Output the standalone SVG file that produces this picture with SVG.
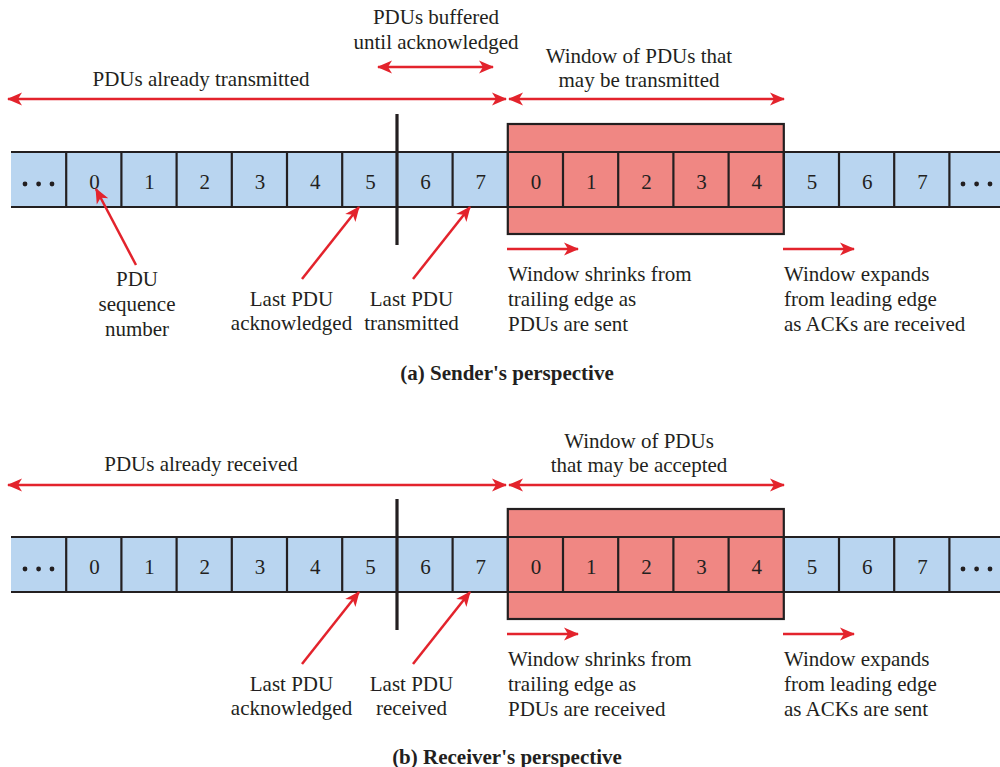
<svg xmlns="http://www.w3.org/2000/svg" xmlns:xlink="http://www.w3.org/1999/xlink" width="1000" height="767" viewBox="0 0 1000 767">
  <style>
    text { font-family: 'Liberation Serif', 'DejaVu Serif', serif; font-size: 21px; fill: #231f20; }
    .c { text-anchor: middle; }
    .cap { font-weight: bold; }
    .arr { stroke: #e3232c; stroke-width: 2.5; fill: none; marker-end: url(#head); }
    .arr2 { marker-start: url(#head); }
    .grid { stroke: #231f20; stroke-width: 2.2; fill: none; }
    .edge { stroke: #231f20; stroke-width: 3.2; }
  </style>
  <defs>
    <marker id="head" markerUnits="userSpaceOnUse" orient="auto-start-reverse" refX="0" refY="0" markerWidth="16" markerHeight="14" overflow="visible">
      <path d="M1,0 L-14,-6.5 L-10,0 L-14,6.5 Z" fill="#e3232c"/>
    </marker>
    <!-- sequence strip: 18 cells of width 55.2 starting at x=11 -->
    <g id="strip">
      <rect x="11" y="152" width="1000" height="55" fill="#b9d5f0"/>
      <rect x="507.8" y="124" width="276" height="110" fill="#f08783" stroke="#231f20" stroke-width="2.2"/>
      <path class="grid" d="M11,152 H1000 M11,207 H1000
        M66.2,152 V207 M121.4,152 V207 M176.6,152 V207 M231.8,152 V207 M287,152 V207
        M342.2,152 V207 M452.6,152 V207 M507.8,152 V207 M563,152 V207 M618.2,152 V207
        M673.4,152 V207 M728.6,152 V207 M783.8,152 V207 M839,152 V207 M894.2,152 V207 M949.4,152 V207"/>
      <line class="edge" x1="397" y1="114" x2="397" y2="245"/>
      <g fill="#231f20">
        <circle cx="25" cy="184" r="2.4"/><circle cx="38.6" cy="184" r="2.4"/><circle cx="52" cy="184" r="2.4"/>
        <circle cx="963" cy="184" r="2.4"/><circle cx="976.6" cy="184" r="2.4"/><circle cx="990" cy="184" r="2.4"/>
      </g>
      <g class="c" font-family="Liberation Serif, serif">
        <text class="c" x="94.4" y="189">0</text>
        <text class="c" x="149.6" y="189">1</text>
        <text class="c" x="204.8" y="189">2</text>
        <text class="c" x="260" y="189">3</text>
        <text class="c" x="315.2" y="189">4</text>
        <text class="c" x="370.4" y="189">5</text>
        <text class="c" x="425.6" y="189">6</text>
        <text class="c" x="480.8" y="189">7</text>
        <text class="c" x="536" y="189">0</text>
        <text class="c" x="591.2" y="189">1</text>
        <text class="c" x="646.4" y="189">2</text>
        <text class="c" x="701.6" y="189">3</text>
        <text class="c" x="756.8" y="189">4</text>
        <text class="c" x="812" y="189">5</text>
        <text class="c" x="867.2" y="189">6</text>
        <text class="c" x="922.4" y="189">7</text>
      </g>
    </g>
  </defs>

  <!-- (a) sender side -->
  <g id="sender-strip"><use xlink:href="#strip"/></g>

  <g id="sender-labels">
    <g id="lbl-buffered">
      <text class="c" x="436" y="24">PDUs buffered</text>
      <text class="c" x="436" y="49">until acknowledged</text>
    </g>
    <text id="lbl-transmitted" class="c" x="201" y="86">PDUs already transmitted</text>
    <g id="lbl-window-a">
      <text class="c" x="639" y="63">Window of PDUs that</text>
      <text class="c" x="639" y="87">may be transmitted</text>
    </g>
    <g id="lbl-seq">
      <text class="c" x="137" y="286">PDU</text>
      <text class="c" x="137" y="311">sequence</text>
      <text class="c" x="137" y="336">number</text>
    </g>
    <g id="lbl-ack-a">
      <text class="c" x="291.5" y="306">Last PDU</text>
      <text class="c" x="291.5" y="330">acknowledged</text>
    </g>
    <g id="lbl-last-tx">
      <text class="c" x="411.5" y="306">Last PDU</text>
      <text class="c" x="411.5" y="330">transmitted</text>
    </g>
    <g id="lbl-shrink-a">
      <text x="508" y="281">Window shrinks from</text>
      <text x="508" y="306">trailing edge as</text>
      <text x="508" y="331">PDUs are sent</text>
    </g>
    <g id="lbl-expand-a">
      <text x="784" y="281">Window expands</text>
      <text x="784" y="306">from leading edge</text>
      <text x="784" y="331">as ACKs are received</text>
    </g>
    <text id="cap-a" class="c cap" x="507" y="380">(a) Sender's perspective</text>
  </g>

  <!-- (b) receiver side, shifted down by 385 -->
  <g id="receiver-strip" transform="translate(0,385)"><use xlink:href="#strip"/></g>

  <g id="receiver-labels">
    <text id="lbl-received" class="c" x="201" y="471">PDUs already received</text>
    <g id="lbl-window-b">
      <text class="c" x="639" y="448">Window of PDUs</text>
      <text class="c" x="639" y="472">that may be accepted</text>
    </g>
    <g id="lbl-ack-b">
      <text class="c" x="291.5" y="691">Last PDU</text>
      <text class="c" x="291.5" y="715">acknowledged</text>
    </g>
    <g id="lbl-last-rx">
      <text class="c" x="411.5" y="691">Last PDU</text>
      <text class="c" x="411.5" y="715">received</text>
    </g>
    <g id="lbl-shrink-b">
      <text x="508" y="666">Window shrinks from</text>
      <text x="508" y="691">trailing edge as</text>
      <text x="508" y="716">PDUs are received</text>
    </g>
    <g id="lbl-expand-b">
      <text x="784" y="666">Window expands</text>
      <text x="784" y="691">from leading edge</text>
      <text x="784" y="716">as ACKs are sent</text>
    </g>
    <text id="cap-b" class="c cap" x="507" y="764">(b) Receiver's perspective</text>
  </g>

  <!-- connectors -->
  <g id="connectors">
    <line class="arr arr2" x1="378" y1="67" x2="493" y2="67"/>
    <line class="arr arr2" x1="8" y1="99" x2="506" y2="99"/>
    <line class="arr arr2" x1="509" y1="99" x2="784" y2="99"/>
    <line class="arr" x1="136" y1="265" x2="96" y2="189"/>
    <line class="arr" x1="302" y1="279" x2="359" y2="207"/>
    <line class="arr" x1="413" y1="279" x2="470" y2="207"/>
    <line class="arr" x1="507" y1="249" x2="578" y2="249"/>
    <line class="arr" x1="783" y1="249" x2="854" y2="249"/>

    <line class="arr arr2" x1="8" y1="485" x2="506" y2="485"/>
    <line class="arr arr2" x1="509" y1="485" x2="784" y2="485"/>
    <line class="arr" x1="302" y1="664" x2="359" y2="592"/>
    <line class="arr" x1="413" y1="664" x2="470" y2="592"/>
    <line class="arr" x1="507" y1="634" x2="578" y2="634"/>
    <line class="arr" x1="783" y1="634" x2="854" y2="634"/>
  </g>
</svg>
